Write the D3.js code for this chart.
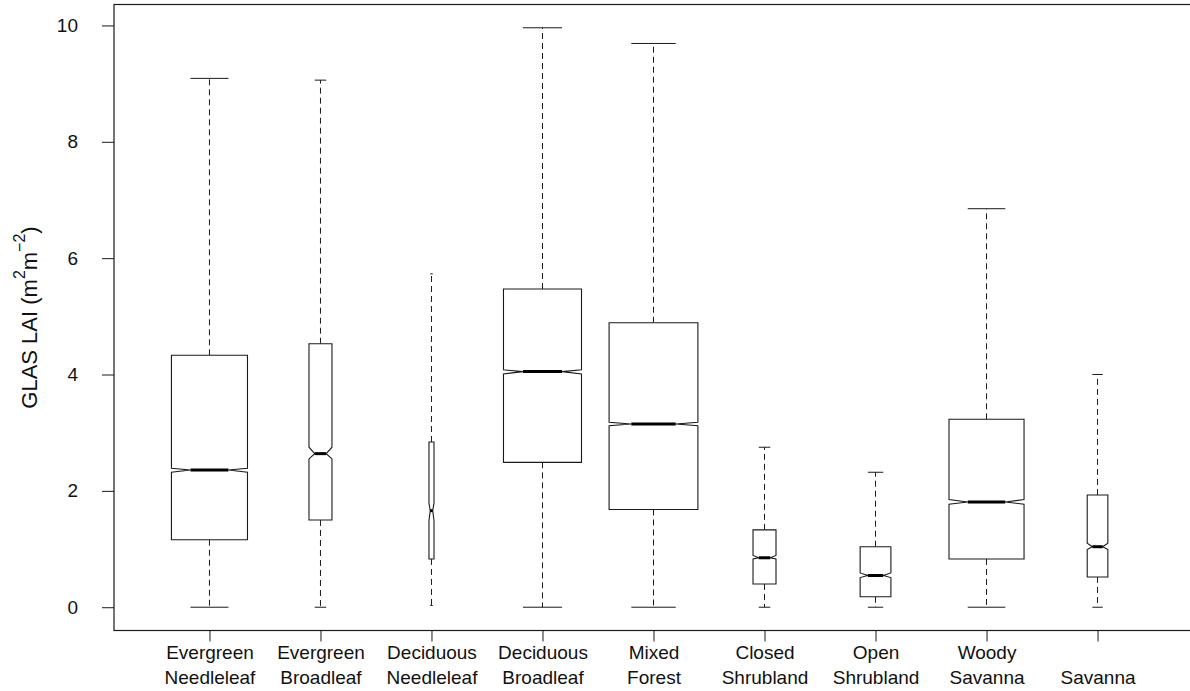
<!DOCTYPE html>
<html>
<head>
<meta charset="utf-8">
<script src="https://cdn.jsdelivr.net/npm/d3@7"></script>
<style>
  body { margin: 0; background: #fff; }
  svg { display: block; font-family: "Liberation Sans", Arial, sans-serif; }
</style>
</head>
<body>
<svg id="chart"></svg>
<script>
// land cover classes, two label lines each
const categories = [
  ["Evergreen", "Needleleaf"],
  ["Evergreen", "Broadleaf"],
  ["Deciduous", "Needleleaf"],
  ["Deciduous", "Broadleaf"],
  ["Mixed", "Forest"],
  ["Closed", "Shrubland"],
  ["Open", "Shrubland"],
  ["Woody", "Savanna"],
  ["", "Savanna"]
];

// box statistics (LAI, m2/m2)
const whiskerLow  = [0.00, 0.00, 0.03, 0.00, 0.00, 0.00, 0.00, 0.00, 0.00];
const q1          = [1.16, 1.50, 0.83, 2.49, 1.68, 0.40, 0.18, 0.83, 0.52];
const median      = [2.36, 2.64, 1.66, 4.05, 3.15, 0.85, 0.545, 1.81, 1.04];
const q3          = [4.33, 4.53, 2.84, 5.47, 4.89, 1.33, 1.04, 3.23, 1.93];
const whiskerHigh = [9.09, 9.06, 5.73, 9.96, 9.69, 2.75, 2.32, 6.85, 4.00];
const notchLow    = [2.32, 2.55, 1.49, 4.01, 3.12, 0.83, 0.51, 1.77, 0.99];
const notchHigh   = [2.39, 2.75, 1.79, 4.08, 3.18, 0.89, 0.59, 1.85, 1.10];
// relative sample size (varwidth boxes)
const relSampleSize = [733, 67, 3.2, 772, 1000, 67, 120, 714, 54];

const yTicks = [0, 2, 4, 6, 8, 10];

const W = 1190, H = 691;
const svg = d3.select("#chart").attr("width", W).attr("height", H);

const x = d3.scaleLinear().domain([0.14, 9.86]).range([114, 1193]);
const y = d3.scaleLinear().domain([-0.4, 10.36]).range([630.5, 4.5]);

const maxN = d3.max(relSampleSize);
const data = categories.map((c, i) => ({
  pos: i + 1,
  lo: whiskerLow[i], q1: q1[i], med: median[i], q3: q3[i], hi: whiskerHigh[i],
  nlo: notchLow[i], nhi: notchHigh[i],
  w: 0.8 * Math.sqrt(relSampleSize[i] / maxN)
}));

const ink = "#1a1a1a";

// y axis
const yAxis = svg.append("g")
  .attr("transform", `translate(${x(0.14)},0)`)
  .call(d3.axisLeft(y).tickValues(yTicks).tickSize(12).tickPadding(24));
yAxis.select(".domain").remove();
yAxis.selectAll(".tick line").attr("stroke", ink);
yAxis.selectAll(".tick text")
  .attr("fill", "#111")
  .style("font-size", "19px")
  .style("font-family", "Liberation Sans, Arial, sans-serif");

// x axis
const xAxis = svg.append("g")
  .attr("transform", `translate(0,${y(-0.4)})`)
  .call(d3.axisBottom(x).tickValues(d3.range(1, 10)).tickSize(11).tickFormat(""));
xAxis.select(".domain").remove();
xAxis.selectAll(".tick line").attr("stroke", ink);
xAxis.selectAll(".tick text").remove();
xAxis.selectAll(".tick").each(function(d) {
  const t = d3.select(this).append("text")
    .attr("text-anchor", "middle")
    .attr("fill", "#111")
    .style("font-size", "19px")
    .style("font-family", "Liberation Sans, Arial, sans-serif");
  categories[d - 1].forEach((line, k) => {
    t.append("tspan").attr("x", 0).attr("y", 28 + k * 25).text(line);
  });
});

// y label
const ylab = svg.append("text")
  .attr("transform", `translate(37,${(y(-0.4) + y(10.36)) / 2}) rotate(-90)`)
  .attr("text-anchor", "middle")
  .attr("fill", "#111")
  .style("font-size", "22px");
ylab.append("tspan").text("GLAS LAI (m");
ylab.append("tspan").attr("dy", -12).style("font-size", "16px").text("2");
ylab.append("tspan").attr("dy", 12).text("m");
ylab.append("tspan").attr("dy", -12).style("font-size", "16px").text("\u22122");
ylab.append("tspan").attr("dy", 12).text(")");

// boxes
const g = svg.append("g");
const px = d => x(d.pos);
const half = d => (x(d.w) - x(0)) / 2;

// dashed whiskers
g.selectAll(".wlo").data(data).join("line")
  .attr("x1", px).attr("x2", px)
  .attr("y1", d => y(d.q1)).attr("y2", d => y(d.lo))
  .attr("stroke", ink).attr("stroke-dasharray", "6,4");
g.selectAll(".whi").data(data).join("line")
  .attr("x1", px).attr("x2", px)
  .attr("y1", d => y(d.q3)).attr("y2", d => y(d.hi))
  .attr("stroke", ink).attr("stroke-dasharray", "6,4");

// staples
["lo", "hi"].forEach(k => {
  g.selectAll(".cap" + k).data(data).join("line")
    .attr("x1", d => px(d) - half(d) / 2).attr("x2", d => px(d) + half(d) / 2)
    .attr("y1", d => y(d[k])).attr("y2", d => y(d[k]))
    .attr("stroke", ink);
});

// notched box
g.selectAll(".box").data(data).join("polygon")
  .attr("points", d => {
    const c = px(d), h = half(d);
    return [
      [c - h, y(d.q1)], [c + h, y(d.q1)], [c + h, y(d.nlo)], [c + h / 2, y(d.med)],
      [c + h, y(d.nhi)], [c + h, y(d.q3)], [c - h, y(d.q3)], [c - h, y(d.nhi)],
      [c - h / 2, y(d.med)], [c - h, y(d.nlo)]
    ].map(p => p.join(",")).join(" ");
  })
  .attr("fill", "#fff").attr("stroke", ink).attr("stroke-width", 1.1);

// medians
g.selectAll(".med").data(data).join("line")
  .attr("x1", d => px(d) - half(d) / 2).attr("x2", d => px(d) + half(d) / 2)
  .attr("y1", d => y(d.med)).attr("y2", d => y(d.med))
  .attr("stroke", "#000").attr("stroke-width", 3);

// frame
svg.append("rect")
  .attr("x", x(0.14)).attr("y", y(10.36))
  .attr("width", x(9.86) - x(0.14)).attr("height", y(-0.4) - y(10.36))
  .attr("fill", "none").attr("stroke", ink).attr("stroke-width", 1.2);
</script>
</body>
</html>
